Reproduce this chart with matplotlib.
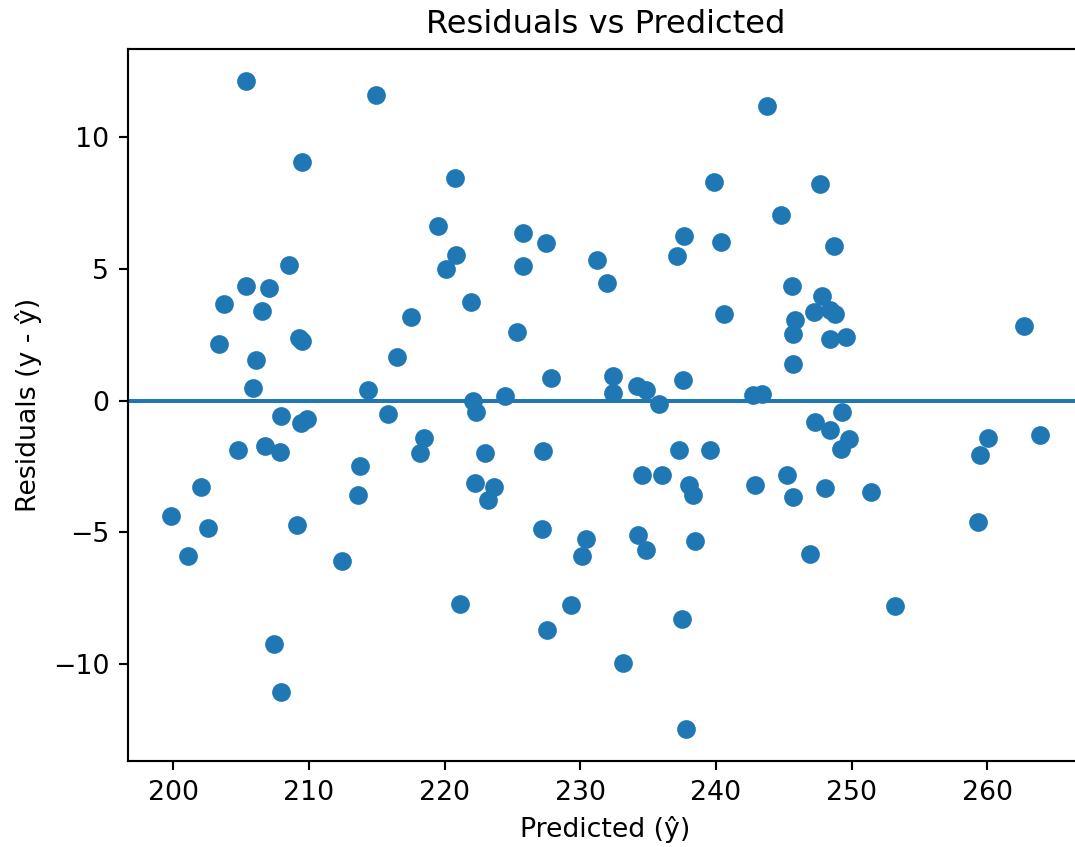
import matplotlib
matplotlib.use("Agg")
import matplotlib.pyplot as plt

predicted = [
    205.35, 214.97, 209.50, 220.74, 219.49, 220.82, 220.10, 221.97, 208.56, 205.35,
    207.05, 203.73, 206.55, 217.53, 203.37, 209.30, 209.50, 206.09, 216.49, 205.91,
    214.34, 207.97, 209.45, 209.87, 215.83, 218.46, 218.21, 204.76, 206.75, 207.90,
    213.75, 213.64, 202.04, 199.87, 202.53, 209.11, 201.10, 212.44, 221.17, 207.42,
    207.97, 225.75, 227.47, 225.75, 225.31, 231.20, 231.98, 227.81, 232.42, 232.42,
    234.15, 234.81, 237.58, 224.45, 222.07, 235.81, 237.63, 237.09, 239.84, 240.40,
    240.57, 243.79, 244.82, 242.73, 243.35, 222.31, 223.00, 227.27, 222.26, 223.66,
    223.22, 234.51, 236.03, 237.26, 239.54, 238.02, 238.31, 242.86, 245.21, 227.17,
    230.39, 230.12, 234.22, 234.81, 238.44, 229.33, 227.56, 237.46, 233.11, 237.75,
    247.67, 248.70, 245.63, 247.84, 247.20, 248.38, 248.80, 245.80, 245.66, 248.43,
    249.56, 245.69, 262.69, 249.29, 247.30, 248.43, 249.78, 249.19, 245.69, 248.06,
    251.45, 246.93, 253.17, 260.04, 259.48, 259.30, 263.84,
]

residuals = [
    12.13, 11.60, 9.06, 8.46, 6.62, 5.55, 5.00, 3.74, 5.16, 4.35,
    4.28, 3.69, 3.40, 3.17, 2.15, 2.38, 2.28, 1.56, 1.65, 0.48,
    0.42, -0.59, -0.84, -0.71, -0.49, -1.43, -2.00, -1.88, -1.73, -1.95,
    -2.49, -3.59, -3.29, -4.40, -4.83, -4.74, -5.91, -6.11, -7.71, -9.24,
    -11.08, 6.37, 5.98, 5.11, 2.61, 5.36, 4.47, 0.86, 0.92, 0.29,
    0.54, 0.42, 0.77, 0.19, -0.03, -0.12, 6.27, 5.49, 8.31, 6.02,
    3.29, 11.19, 7.05, 0.23, 0.25, -0.42, -2.00, -1.92, -3.12, -3.29,
    -3.78, -2.84, -2.84, -1.86, -1.86, -3.22, -3.60, -3.22, -2.84, -4.89,
    -5.27, -5.91, -5.12, -5.68, -5.32, -7.77, -8.70, -8.30, -9.96, -12.46,
    8.24, 5.89, 4.37, 3.99, 3.36, 3.46, 3.31, 3.08, 2.55, 2.34,
    2.42, 1.41, 2.83, -0.42, -0.80, -1.13, -1.47, -1.83, -3.67, -3.33,
    -3.48, -5.82, -7.82, -1.43, -2.07, -4.60, -1.32,
]

DPI = 192.5
fig = plt.figure(figsize=(1075 / DPI, 847 / DPI), dpi=DPI)
ax = fig.add_axes([128 / 1075, (847 - 761) / 847, (1083 - 128) / 1075, (761 - 49) / 847])

ax.scatter(predicted, residuals)
ax.axhline(0)
ax.set_title("Residuals vs Predicted")
ax.set_xlabel("Predicted (ŷ)")
ax.set_ylabel("Residuals (y - ŷ)")

fig.savefig("out.png", dpi=DPI)
